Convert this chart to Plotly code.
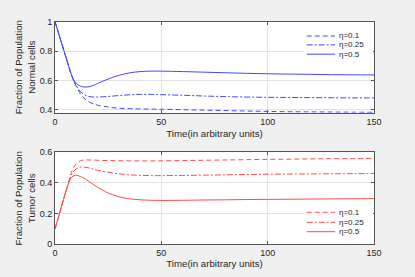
import plotly.graph_objects as go
from plotly.subplots import make_subplots

# ---- data ----
t = [0, 2, 4, 6, 8, 10, 12, 14, 16, 18, 20, 25, 30, 35, 40, 45, 50,
     60, 70, 80, 90, 100, 110, 120, 130, 140, 150]

normal_eta01 = [1.0, 0.906, 0.812, 0.718, 0.628, 0.56, 0.51, 0.475, 0.455, 0.441, 0.433,
                0.42, 0.412, 0.409, 0.407, 0.406, 0.405, 0.402, 0.399, 0.396, 0.393,
                0.39, 0.388, 0.387, 0.386, 0.385, 0.384]
normal_eta025 = [1.0, 0.906, 0.812, 0.718, 0.628, 0.565, 0.525, 0.503, 0.492, 0.488, 0.488,
                 0.492, 0.498, 0.503, 0.506, 0.506, 0.504, 0.5, 0.495, 0.491, 0.488,
                 0.486, 0.485, 0.484, 0.483, 0.482, 0.482]
normal_eta05 = [1.0, 0.906, 0.812, 0.718, 0.63, 0.58, 0.562, 0.556, 0.558, 0.567, 0.58,
                0.61, 0.635, 0.652, 0.661, 0.664, 0.664, 0.661, 0.657, 0.653, 0.649,
                0.646, 0.644, 0.642, 0.64, 0.639, 0.638]

tumor_eta01 = [0.1, 0.196, 0.292, 0.385, 0.48, 0.525, 0.545, 0.55, 0.55, 0.549, 0.548,
               0.546, 0.545, 0.544, 0.544, 0.544, 0.544, 0.546, 0.548, 0.55, 0.552,
               0.554, 0.555, 0.557, 0.558, 0.559, 0.56]
tumor_eta025 = [0.1, 0.196, 0.292, 0.385, 0.46, 0.492, 0.503, 0.503, 0.498, 0.49, 0.483,
                0.47, 0.46, 0.453, 0.45, 0.448, 0.448, 0.449, 0.451, 0.453, 0.455,
                0.457, 0.458, 0.459, 0.46, 0.461, 0.462]
tumor_eta05 = [0.1, 0.196, 0.292, 0.385, 0.44, 0.45, 0.442, 0.428, 0.41, 0.39, 0.372,
               0.335, 0.31, 0.297, 0.29, 0.287, 0.286, 0.287, 0.289, 0.29, 0.292,
               0.293, 0.294, 0.295, 0.296, 0.297, 0.298]

eta_labels = ["η=0.1", "η=0.25", "η=0.5"]
x_ticks = [0, 50, 100, 150]
normal_ticks = [0.4, 0.6, 0.8, 1]
tumor_ticks = [0, 0.2, 0.4, 0.6]

# ---- styles ----
BLUE = "rgb(70,70,255)"
RED = "rgb(255,75,75)"
DASHES = ["5px,3px", "6px,2px,2px,2px", "solid"]
FONT = "Liberation Sans, Arial, sans-serif"
TXT = "#262626"

fig = make_subplots(rows=2, cols=1)

for ys, d, name in zip([normal_eta01, normal_eta025, normal_eta05], DASHES, eta_labels):
    fig.add_trace(go.Scatter(x=t, y=ys, mode="lines", name=name, line_shape="spline",
                             line=dict(color=BLUE, width=1, dash=d), showlegend=False),
                  row=1, col=1)
for ys, d, name in zip([tumor_eta01, tumor_eta025, tumor_eta05], DASHES, eta_labels):
    fig.add_trace(go.Scatter(x=t, y=ys, mode="lines", name=name, line_shape="spline",
                             line=dict(color=RED, width=1, dash=d), showlegend=False),
                  row=2, col=1)

axis_common = dict(showline=True, linecolor="#555555", linewidth=1, mirror="allticks",
                   ticks="inside", ticklen=3, tickcolor="#555555", automargin=False,
                   showgrid=True, gridcolor="#e3e3e3", gridwidth=1, zeroline=False,
                   tickfont=dict(family=FONT, size=9, color=TXT))

xdom = [55 / 415, 374 / 415]
fig.update_layout(
    xaxis=dict(domain=xdom, range=[0, 150], tickvals=x_ticks, anchor="y",
               title=dict(text="Time(in arbitrary units)", font=dict(family=FONT, size=9.7, color=TXT), standoff=4),
               **axis_common),
    yaxis=dict(domain=[(277 - 112.7) / 277, (277 - 21.7) / 277], range=[0.3815, 1.0],
               tickvals=normal_ticks, ticktext=["0.4", "0.6", "0.8", "1"], anchor="x",
               title=dict(text="Fraction of Population<br>Normal cells", font=dict(family=FONT, size=9.7, color=TXT), standoff=2),
               **axis_common),
    xaxis2=dict(domain=xdom, range=[0, 150], tickvals=x_ticks, anchor="y2",
                title=dict(text="Time(in arbitrary units)", font=dict(family=FONT, size=9.7, color=TXT), standoff=3),
                **axis_common),
    yaxis2=dict(domain=[(277 - 244.3) / 277, (277 - 152.3) / 277], range=[0, 0.6],
                tickvals=tumor_ticks, ticktext=["0", "0.2", "0.4", "0.6"], anchor="x2",
                title=dict(text="Fraction of Population<br>Tumor cells", font=dict(family=FONT, size=9.7, color=TXT), standoff=2),
                **axis_common),
)

# ---- custom compact legends ----
def add_legend(xref, yref, rows, color, box):
    fig.add_shape(type="rect", xref=xref, yref=yref, x0=0.78, x1=0.997, y0=box[0], y1=box[1],
                  fillcolor="white", line=dict(width=0), layer="above")
    for yy, d, lab in zip(rows, DASHES, eta_labels):
        fig.add_shape(type="line", xref=xref, yref=yref, x0=0.789, x1=0.878, y0=yy, y1=yy,
                      line=dict(color=color, width=1, dash=d), layer="above")
        fig.add_annotation(xref=xref, yref=yref, x=0.885, y=yy, text=lab, showarrow=False,
                           xanchor="left", yanchor="middle",
                           font=dict(family=FONT, size=8, color=TXT))

add_legend("x domain", "y domain", [0.843, 0.745, 0.643], BLUE, [0.59, 0.91])
add_legend("x2 domain", "y2 domain", [0.348, 0.239, 0.137], RED, [0.08, 0.415])

fig.update_layout(width=415, height=277, margin=dict(l=0, r=0, t=0, b=0),
                  paper_bgcolor="#f0f0f0", plot_bgcolor="white",
                  font=dict(family=FONT, color=TXT))

fig.write_html("out.html", config={"displayModeBar": False},
               post_script="document.body.style.margin='0px';document.body.style.overflow='hidden';")
